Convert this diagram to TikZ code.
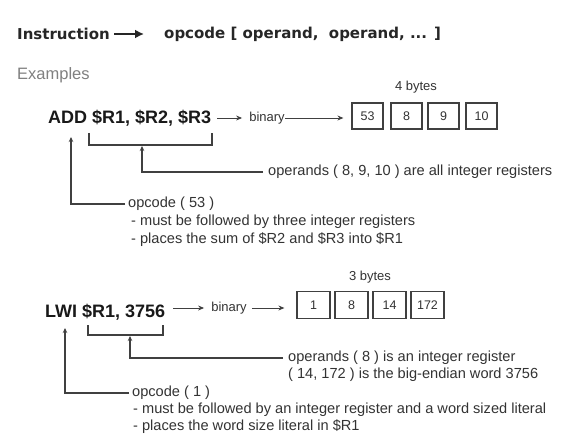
\documentclass[tikz,border=0pt]{standalone}
\usepackage{fontspec}
\setmainfont{Liberation Sans}
\newfontfamily\titlefont{DejaVu Sans}
\usetikzlibrary{arrows.meta}
\definecolor{txtgray}{HTML}{333333}
\definecolor{linegray}{HTML}{404040}
\begin{document}
\begin{tikzpicture}[x=1pt,y=-1pt,
  titletxt/.style={inner sep=0pt, anchor=west, font=\titlefont\bfseries\fontsize{15}{17}\selectfont, text=black!85},
  bigtxt/.style={inner sep=0pt, anchor=west, font=\bfseries\fontsize{18}{20}\selectfont, text=black!90},
  lbl/.style={inner sep=0pt, anchor=west, font=\fontsize{14.6}{17}\selectfont, text=txtgray},
  smalltxt/.style={inner sep=0pt, font=\fontsize{13}{15}\selectfont, text=txtgray},
  bytebox/.style={draw=linegray, line width=1.2pt, minimum width=31pt, minimum height=26pt, inner sep=0pt, font=\fontsize{12.5}{14}\selectfont, text=txtgray},
  flow/.style={draw=linegray, line width=0.9pt, -{Stealth[length=6pt,width=5pt]}},
  ptr/.style={draw=linegray, line width=1.1pt, -{Stealth[length=5pt,width=4.5pt]}},
  brace/.style={draw=linegray, line width=1.1pt},
  titlearrow/.style={draw=black!85, line width=2.6pt, -{Latex[length=9pt,width=9pt]}}
]
\useasboundingbox (0,0) rectangle (562,441);
\fill[white] (0,0) rectangle (562,441);

% title
\node[titletxt] (instr) at (17,34) {Instruction};
\node[titletxt] (opc) at (164,34) {opcode [ operand,\ \ operand, ... ]};
\draw[titlearrow, shorten <=4pt, shorten >=20pt] (instr.east) -- (instr.east -| opc.west);

\node[inner sep=0pt, anchor=west, font=\fontsize{16.5}{19}\selectfont, text=black!50] (ex) at (17,75) {Examples};

% ---------- ADD example ----------
\node[bigtxt] (add) at (48,118) {ADD \$R1, \$R2, \$R3};
\node[smalltxt] (bin1) at (267,118) {binary};
\node[bytebox] (a1) at (367.5,116) {53};
\node[bytebox] (a2) at (406.5,116) {8};
\node[bytebox] (a3) at (443.5,116) {9};
\node[bytebox] (a4) at (481.5,116) {10};
\node[smalltxt] (nb1) at (416,87) {4 bytes};
\draw[flow, shorten <=6pt, shorten >=7pt] (bin1.west -| add.east) -- (bin1.west);
\draw[flow, shorten >=8pt] (bin1.east) -- (bin1.east -| a1.west);

\coordinate (b1l) at (89,133);
\coordinate (b1r) at (212,133);
\draw[brace] (b1l) -- ++(0,12) -| (b1r);

\node[lbl] (opd1) at (268,172) {operands ( 8, 9, 10 ) are all integer registers};
\coordinate (t1) at (142,146);
\draw[ptr, shorten <=5pt] (opd1.west) -| (t1);

\node[lbl] (op1) at (128,204) {opcode ( 53 )};
\node[lbl] (op1a) at (131,222) {- must be followed by three integer registers};
\node[lbl] (op1b) at (131,240) {- places the sum of \$R2 and \$R3 into \$R1};
\coordinate (t2) at (71,137);
\draw[ptr, shorten <=3pt] (op1.west) -| (t2);

% ---------- LWI example ----------
\node[bigtxt] (lwi) at (45,312) {LWI \$R1, 3756};
\node[smalltxt] (bin2) at (229,308) {binary};
\node[bytebox, minimum width=33pt, minimum height=27pt] (c1) at (313.5,305) {1};
\node[bytebox, minimum width=33pt, minimum height=27pt] (c2) at (351.5,305) {8};
\node[bytebox, minimum width=33pt, minimum height=27pt] (c3) at (389.5,305) {14};
\node[bytebox, minimum width=33pt, minimum height=27pt] (c4) at (427.5,305) {172};
\node[smalltxt] (nb2) at (370,277) {3 bytes};
\draw[flow, shorten <=8pt, shorten >=7pt] (bin2.west -| lwi.east) -- (bin2.west);
\draw[flow, shorten <=5pt, shorten >=12pt] (bin2.east) -- (bin2.east -| c1.west);

\coordinate (b2l) at (88,325);
\coordinate (b2r) at (163,325);
\draw[brace] (b2l) -- ++(0,10) -| (b2r);

\node[lbl] (opd2) at (288,358) {operands ( 8 ) is an integer register};
\node[lbl] (opd2b) at (288,375) {( 14, 172 ) is the big-endian word 3756};
\coordinate (t3) at (130,336);
\draw[ptr, shorten <=5pt] (opd2.west) -| (t3);

\node[lbl] (op2) at (132,393) {opcode ( 1 )};
\node[lbl] (op2a) at (133,410) {- must be followed by an integer register and a word sized literal};
\node[lbl] (op2b) at (133,427) {- places the word size literal in \$R1};
\coordinate (t4) at (65,328);
\draw[ptr, shorten <=3pt] (op2.west) -| (t4);
\end{tikzpicture}
\end{document}
